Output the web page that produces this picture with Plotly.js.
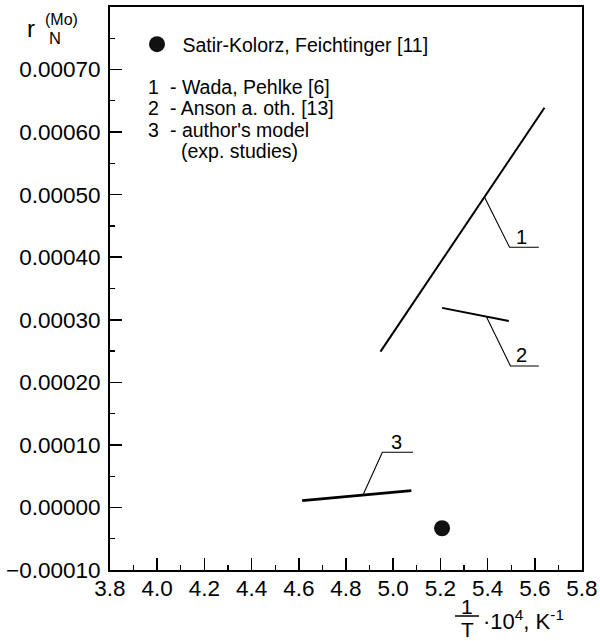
<!DOCTYPE html>
<html>
<head>
<meta charset="utf-8">
<script src="https://cdn.plot.ly/plotly-3.0.1.min.js"></script>
<style>html,body{margin:0;padding:0;background:#fff;}#chart{width:600px;height:641px;}</style>
</head>
<body>
<div id="chart"></div>
<script>
// ---- data ----
const line1X = [4.946, 5.641];
const line1Y = [0.000249, 0.000639];
const line2X = [5.207, 5.490];
const line2Y = [0.000319, 0.000298];
const line3X = [4.614, 5.077];
const line3Y = [0.0000109, 0.0000269];
const dotX = [5.207];
const dotY = [-0.0000333];
const dotName = '\u00A0Satir-Kolorz, Feichtinger [11]';

// callout leaders and their numbers
const leader1X = [5.387, 5.493, 5.617];
const leader1Y = [0.000496, 0.000416, 0.000416];
const leader2X = [5.395, 5.497, 5.617];
const leader2Y = [0.000305, 0.000226, 0.000226];
const leader3X = [4.872, 4.954, 5.084];
const leader3Y = [0.0000198, 0.0000883, 0.0000883];
const calloutText = ['1', '2', '3'];
const calloutX = [5.543, 5.545, 5.014];
const calloutY = [0.000433, 0.000244, 0.000105];

const keyNumbers = ['1', '2', '3'];
const keyTexts = ['- Wada, Pehlke [6]', '- Anson a. oth. [13]', "- author's model"];
const keyExtra = '(exp. studies)';

const xTicks = [3.8, 4.0, 4.2, 4.4, 4.6, 4.8, 5.0, 5.2, 5.4, 5.6, 5.8];
const yTicks = [-0.0001, 0, 0.0001, 0.0002, 0.0003, 0.0004, 0.0005, 0.0006, 0.0007];

// ---- layout geometry ----
const W = 600, H = 641;
const M = {l: 110, r: 18, t: 7, b: 71};
const PW = W - M.l - M.r, PH = H - M.t - M.b;
const px = x => (x - M.l) / PW;
const py = y => (H - M.b - y) / PH;
const FONT = 'Liberation Sans, Arial, Helvetica, sans-serif';
const black = '#000';
const KEYSIZE = 19.5;

const traces = [
  {x: line1X, y: line1Y, mode: 'lines', line: {color: black, width: 2}, showlegend: false, hoverinfo: 'skip'},
  {x: line2X, y: line2Y, mode: 'lines', line: {color: black, width: 2}, showlegend: false, hoverinfo: 'skip'},
  {x: line3X, y: line3Y, mode: 'lines', line: {color: black, width: 3}, showlegend: false, hoverinfo: 'skip'},
  {x: leader1X, y: leader1Y, mode: 'lines', line: {color: black, width: 1.1}, showlegend: false, hoverinfo: 'skip'},
  {x: leader2X, y: leader2Y, mode: 'lines', line: {color: black, width: 1.1}, showlegend: false, hoverinfo: 'skip'},
  {x: leader3X, y: leader3Y, mode: 'lines', line: {color: black, width: 1.1}, showlegend: false, hoverinfo: 'skip'},
  {x: dotX, y: dotY, mode: 'markers', name: dotName, marker: {color: '#111', size: 16}, showlegend: true}
];

const annotations = [];
calloutText.forEach((t, i) => annotations.push({
  x: calloutX[i], y: calloutY[i], xref: 'x', yref: 'y', text: t, showarrow: false,
  font: {family: FONT, size: 20, color: black}, xanchor: 'center', yanchor: 'middle'
}));
const keyY = [86.7, 108.3, 130];
keyNumbers.forEach((n, i) => {
  annotations.push({x: px(161), y: py(keyY[i]), xref: 'paper', yref: 'paper', text: n, showarrow: false,
    font: {family: FONT, size: KEYSIZE, color: black}, xanchor: 'right', yanchor: 'middle'});
  annotations.push({x: px(168), y: py(keyY[i]), xref: 'paper', yref: 'paper', text: keyTexts[i], showarrow: false,
    font: {family: FONT, size: KEYSIZE, color: black}, xanchor: 'left', yanchor: 'middle'});
});
annotations.push({x: px(179), y: py(150.7), xref: 'paper', yref: 'paper', text: keyExtra, showarrow: false,
  font: {family: FONT, size: KEYSIZE, color: black}, xanchor: 'left', yanchor: 'middle'});

// y-axis title r_N^(Mo)
annotations.push({x: px(31), y: py(28), xref: 'paper', yref: 'paper', text: 'r', showarrow: false,
  font: {family: FONT, size: 24, color: black}, xanchor: 'center', yanchor: 'middle'});
annotations.push({x: px(61), y: py(19), xref: 'paper', yref: 'paper', text: '(Mo)', showarrow: false,
  font: {family: FONT, size: 16, color: black}, xanchor: 'center', yanchor: 'middle'});
annotations.push({x: px(55), y: py(38), xref: 'paper', yref: 'paper', text: 'N', showarrow: false,
  font: {family: FONT, size: 16.5, color: black}, xanchor: 'center', yanchor: 'middle'});

// x-axis title 1/T · 10^4, K^-1
annotations.push({x: px(467), y: py(606), xref: 'paper', yref: 'paper', text: '1', showarrow: false,
  font: {family: FONT, size: 21, color: black}, xanchor: 'center', yanchor: 'middle'});
annotations.push({x: px(467), y: py(629), xref: 'paper', yref: 'paper', text: 'T', showarrow: false,
  font: {family: FONT, size: 21, color: black}, xanchor: 'center', yanchor: 'middle'});
annotations.push({x: px(481), y: py(620), xref: 'paper', yref: 'paper', text: '·10<sup>4</sup>, K<sup>-1</sup>', showarrow: false,
  font: {family: FONT, size: 22, color: black}, xanchor: 'left', yanchor: 'middle'});

const layout = {
  width: W, height: H,
  margin: M,
  paper_bgcolor: '#fff', plot_bgcolor: '#fff',
  font: {family: FONT, color: black},
  showlegend: true,
  legend: {x: px(137), y: py(25), xanchor: 'left', yanchor: 'top', bgcolor: 'rgba(0,0,0,0)',
    font: {family: FONT, size: KEYSIZE, color: black}, itemsizing: 'trace'},
  xaxis: {
    range: [3.8, 5.8], tickvals: xTicks, tickformat: '.1f',
    showgrid: false, zeroline: false, showline: true, mirror: true, linecolor: black, linewidth: 2,
    ticks: 'inside', ticklen: 12, tickwidth: 1.5, tickcolor: black,
    minor: {dtick: 0.1, ticks: 'inside', ticklen: 5, tickwidth: 1.2, tickcolor: black, showgrid: false},
    tickfont: {family: FONT, size: 22.5, color: black}, ticklabelstandoff: -3
  },
  yaxis: {
    range: [-0.0001, 0.0008], tickvals: yTicks, tickformat: '.5f',
    showgrid: false, zeroline: false, showline: true, mirror: true, linecolor: black, linewidth: 2,
    ticks: 'inside', ticklen: 12, tickwidth: 1.5, tickcolor: black,
    minor: {dtick: 0.00005, ticks: 'inside', ticklen: 5, tickwidth: 1.2, tickcolor: black, showgrid: false},
    tickfont: {family: FONT, size: 22.5, color: black}, ticklabelstandoff: 3
  },
  shapes: [
    {type: 'line', xref: 'paper', yref: 'paper', x0: px(455), x1: px(479), y0: py(616), y1: py(616),
     line: {color: black, width: 1.5}}
  ],
  annotations: annotations
};

Plotly.newPlot('chart', traces, layout, {displayModeBar: false, staticPlot: true});
</script>
</body>
</html>
